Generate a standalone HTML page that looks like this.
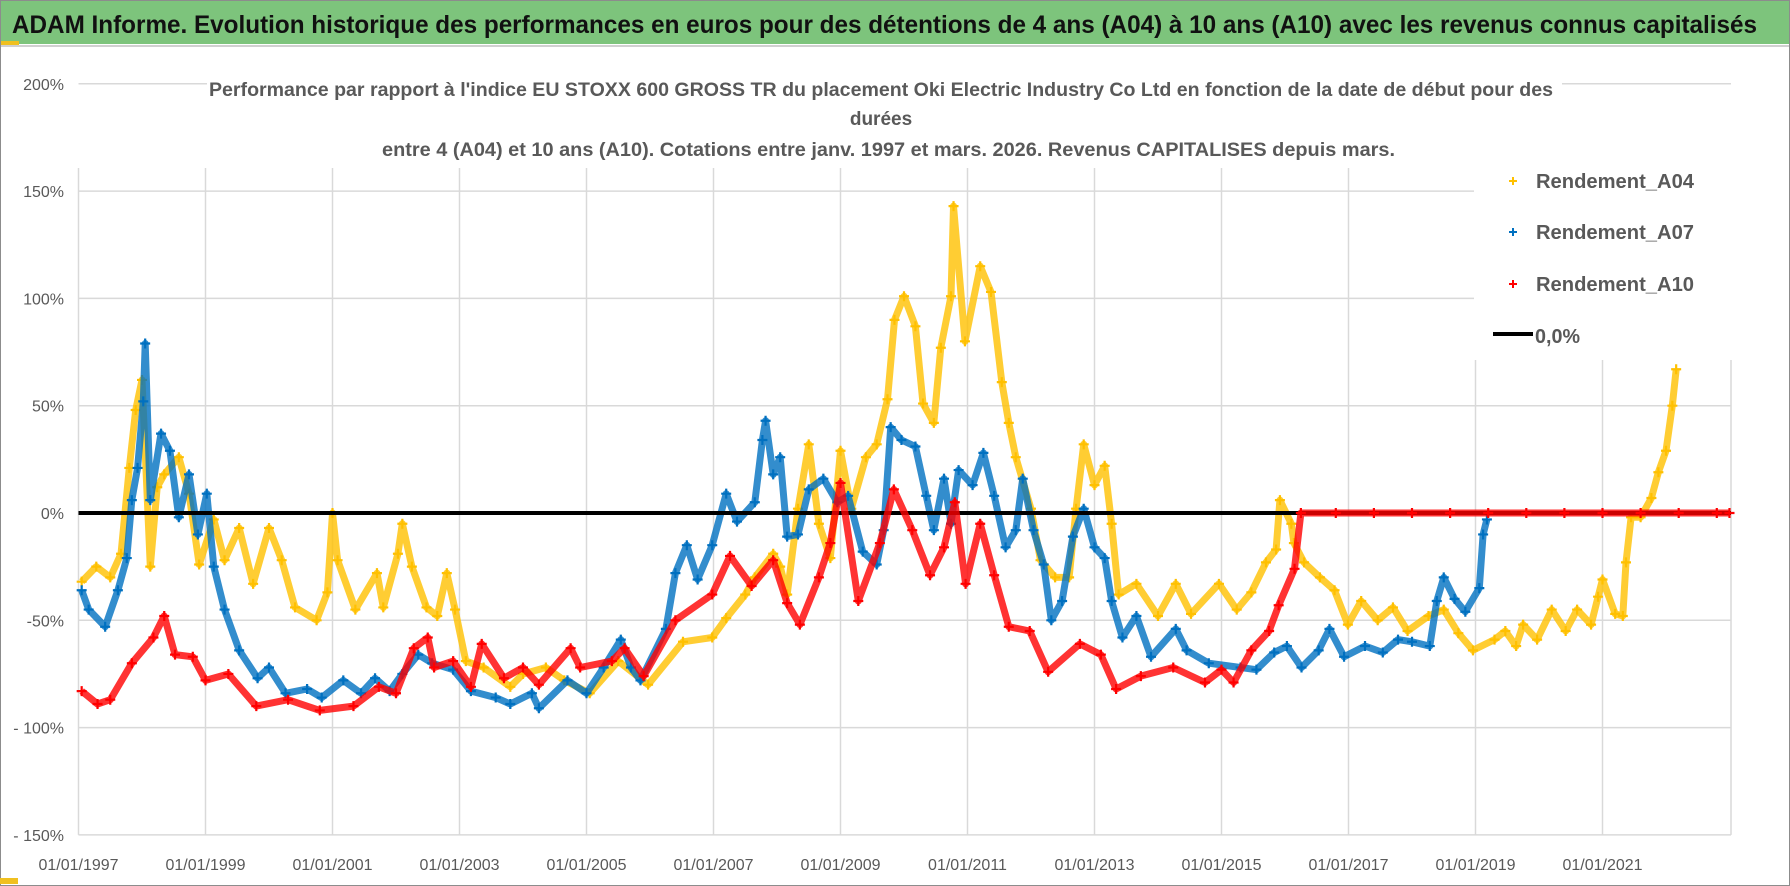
<!DOCTYPE html>
<html><head><meta charset="utf-8"><style>
html,body{margin:0;padding:0;background:#fff;}
svg{display:block;}
text{font-family:"Liberation Sans",sans-serif;}
</style></head><body>
<svg id="chart" width="1790" height="886" viewBox="0 0 1790 886" xmlns="http://www.w3.org/2000/svg">
<rect x="0.5" y="0.5" width="1789" height="885" fill="#fff" stroke="#8c8c8c"/>
<rect x="1" y="1" width="1788" height="43" fill="#7dc47c"/>
<rect x="1" y="41" width="18" height="4" fill="#f0c020"/>
<line x1="1" y1="46" x2="1789" y2="46" stroke="#d0d0d0" stroke-width="2"/>
<text x="12" y="33" font-size="25" font-weight="bold" fill="#111" textLength="1745" lengthAdjust="spacingAndGlyphs">ADAM Informe. Evolution historique des performances en euros pour des détentions de 4 ans (A04) à 10 ans (A10) avec les revenus connus capitalisés</text>
<rect x="0" y="878" width="18" height="6" fill="#f0c020"/>
<g id="grid"></g>
<g id="yticks"></g>
<g id="xticks"></g>
<rect x="207" y="62" width="1355" height="106" fill="#fff"/>
<rect x="1474" y="160" width="262" height="200" fill="#fff"/>
<g fill="#595959" font-weight="bold" font-size="19">
<text x="209" y="96" textLength="1344" lengthAdjust="spacingAndGlyphs">Performance par rapport à l'indice EU STOXX 600 GROSS TR  du placement Oki Electric Industry Co Ltd en fonction de la date de début pour des</text>
<text x="881" y="125" text-anchor="middle">durées</text>
<text x="382" y="156" textLength="1013" lengthAdjust="spacingAndGlyphs">entre 4 (A04) et 10 ans (A10).  Cotations entre janv. 1997 et mars. 2026.  Revenus CAPITALISES depuis mars.</text>
</g>
<g id="series"></g>
<g font-size="20" font-weight="bold" fill="#595959">
<g><path d="M1509 181h8M1513 177v8" stroke="#ffc000" stroke-width="2"/><text x="1536" y="188" textLength="158" lengthAdjust="spacingAndGlyphs">Rendement_A04</text></g>
<g><path d="M1509 232h8M1513 228v8" stroke="#0070c0" stroke-width="2"/><text x="1536" y="239" textLength="158" lengthAdjust="spacingAndGlyphs">Rendement_A07</text></g>
<g><path d="M1509 284h8M1513 280v8" stroke="#ff0000" stroke-width="2"/><text x="1536" y="291" textLength="158" lengthAdjust="spacingAndGlyphs">Rendement_A10</text></g>
<g><line x1="1493" y1="334" x2="1533" y2="334" stroke="#000" stroke-width="4"/><text x="1535" y="343" textLength="45" lengthAdjust="spacingAndGlyphs">0,0%</text></g>
</g>
</svg>
<script>
const yTicks=[200,150,100,50,0,-50,-100,-150];
const yTickLabels=["200%","150%","100%","50%","0%","-50%","- 100%","- 150%"];
const xTickYears=[1997,1999,2001,2003,2005,2007,2009,2011,2013,2015,2017,2019,2021];
const xTickLabels=["01/01/1997","01/01/1999","01/01/2001","01/01/2003","01/01/2005","01/01/2007","01/01/2009","01/01/2011","01/01/2013","01/01/2015","01/01/2017","01/01/2019","01/01/2021"];
const a04Years=[1997.05,1997.28,1997.5,1997.67,1997.8,1997.9,1998.0,1998.13,1998.24,1998.35,1998.58,1998.74,1998.9,1999.13,1999.3,1999.53,1999.75,2000.0,2000.2,2000.41,2000.75,2000.92,2001.0,2001.08,2001.36,2001.7,2001.8,2002.03,2002.1,2002.25,2002.48,2002.65,2002.8,2002.93,2003.1,2003.38,2003.8,2004.0,2004.36,2004.65,2005.05,2005.5,2005.97,2006.52,2006.98,2007.2,2007.5,2007.65,2007.94,2008.05,2008.16,2008.33,2008.5,2008.66,2008.84,2009.0,2009.17,2009.4,2009.57,2009.74,2009.85,2010.0,2010.18,2010.3,2010.47,2010.58,2010.74,2010.78,2010.96,2011.2,2011.37,2011.54,2011.65,2011.76,2012.0,2012.15,2012.38,2012.6,2012.71,2012.83,2013.0,2013.16,2013.27,2013.38,2013.66,2014.0,2014.28,2014.52,2014.96,2015.24,2015.47,2015.7,2015.86,2015.92,2016.1,2016.14,2016.3,2016.55,2016.78,2016.99,2017.2,2017.46,2017.7,2017.93,2018.26,2018.5,2018.73,2018.96,2019.3,2019.47,2019.64,2019.75,2019.97,2020.2,2020.42,2020.6,2020.82,2020.93,2021.0,2021.2,2021.32,2021.37,2021.45,2021.6,2021.77,2021.88,2022.0,2022.1,2022.16];
const a04Values=[-32,-25,-30,-19,21,48,62,-25,12,18,26,9,-24,-3,-22,-7,-33,-7,-22,-44,-50,-37,0,-22,-45,-28,-44,-19,-5,-25,-44,-48,-28,-45,-69,-72,-81,-75,-72,-78,-84,-69,-80,-60,-58,-49,-38,-30,-19,-25,-38,2,32,-5,-21,29,2,26,32,53,90,101,87,51,42,77,101,143,80,115,103,61,42,26,2,-22,-30,-30,2,32,13,22,-5,-38,-33,-48,-33,-47,-33,-45,-37,-23,-17,6,-5,-14,-23,-30,-36,-52,-41,-50,-44,-55,-48,-45,-56,-64,-59,-55,-62,-52,-59,-45,-55,-45,-52,-39,-31,-47,-48,-23,-2,-2,7,19,29,50,67];
const a07Years=[1997.05,1997.16,1997.42,1997.62,1997.76,1997.84,1997.93,1998.02,1998.05,1998.13,1998.3,1998.44,1998.58,1998.74,1998.88,1999.02,1999.13,1999.3,1999.53,1999.82,2000.0,2000.26,2000.6,2000.83,2001.17,2001.45,2001.67,2001.9,2002.1,2002.35,2002.57,2002.9,2003.18,2003.57,2003.8,2004.14,2004.25,2004.7,2005.0,2005.27,2005.54,2005.7,2005.85,2006.25,2006.4,2006.58,2006.75,2006.98,2007.2,2007.37,2007.65,2007.77,2007.82,2007.94,2008.05,2008.16,2008.33,2008.5,2008.73,2008.95,2009.12,2009.35,2009.57,2009.68,2009.79,2009.96,2010.18,2010.35,2010.47,2010.63,2010.74,2010.86,2011.08,2011.25,2011.42,2011.6,2011.76,2011.87,2012.04,2012.2,2012.32,2012.49,2012.66,2012.83,2013.0,2013.16,2013.27,2013.44,2013.66,2013.89,2014.28,2014.45,2014.8,2015.3,2015.55,2015.83,2016.03,2016.26,2016.53,2016.7,2016.93,2017.26,2017.54,2017.78,2018.0,2018.28,2018.39,2018.5,2018.67,2018.84,2019.06,2019.12,2019.18];
const a07Values=[-36,-45,-53,-36,-21,6,21,52,79,6,37,29,-2,18,-10,9,-25,-45,-64,-77,-72,-84,-82,-86,-78,-84,-77,-83,-75,-66,-70,-73,-83,-86,-89,-84,-91,-78,-84,-72,-59,-72,-78,-54,-28,-15,-31,-15,9,-4,5,34,43,18,26,-11,-10,11,16,5,8,-18,-24,-8,40,34,31,8,-8,16,-5,20,13,28,8,-16,-8,16,-8,-24,-50,-41,-11,2,-16,-21,-41,-58,-48,-67,-54,-64,-70,-72,-73,-65,-62,-72,-64,-54,-67,-62,-65,-59,-60,-62,-41,-30,-40,-46,-35,-10,-3];
const a10Years=[1997.05,1997.3,1997.5,1997.84,1998.18,1998.35,1998.52,1998.8,1999.0,1999.36,1999.8,2000.3,2000.8,2001.33,2001.73,2002.0,2002.28,2002.5,2002.6,2002.9,2003.18,2003.35,2003.7,2004.0,2004.25,2004.75,2004.9,2005.4,2005.6,2005.9,2006.4,2006.98,2007.26,2007.6,2007.94,2008.16,2008.36,2008.66,2008.84,2009.0,2009.28,2009.62,2009.84,2010.13,2010.41,2010.63,2010.8,2010.97,2011.2,2011.42,2011.65,2011.98,2012.27,2012.77,2013.1,2013.34,2013.73,2014.24,2014.74,2015.0,2015.19,2015.47,2015.75,2015.9,2016.15,2016.25,2016.8,2017.4,2018.0,2018.6,2019.2,2019.8,2020.4,2021.0,2021.6,2022.2,2022.8,2023.0];
const a10Values=[-83,-89,-87,-70,-58,-48,-66,-67,-78,-75,-90,-87,-92,-90,-81,-84,-63,-58,-72,-69,-81,-61,-77,-72,-80,-63,-72,-69,-63,-76,-50,-38,-20,-34,-22,-42,-52,-30,-14,14,-41,-14,11,-8,-29,-16,5,-33,-5,-29,-53,-55,-74,-61,-66,-82,-76,-72,-79,-73,-79,-64,-55,-43,-26,0,0,0,0,0,0,0,0,0,0,0,0,0];

const X0=78.5, PX_PER_YEAR=63.5, Y0=513, PX_PER_PCT=2.146, XRIGHT=1731;
function xs(yr){return X0+(yr-1997)*PX_PER_YEAR;}
function ys(v){return Y0-v*PX_PER_PCT;}
const NS="http://www.w3.org/2000/svg";
function mk(tag,attrs,parent){const e=document.createElementNS(NS,tag);for(const k in attrs)e.setAttribute(k,attrs[k]);parent.appendChild(e);return e;}

const grid=document.getElementById('grid');
yTicks.forEach((v,i)=>{
  const l=mk('line',{x1:X0,x2:XRIGHT,y1:ys(v),y2:ys(v),stroke:'#d9d9d9','stroke-width':1.5},grid);
  
  
  const t=mk('text',{x:64,y:ys(v)+6,'text-anchor':'end','font-size':16,fill:'#595959'},document.getElementById('yticks'));
  t.textContent=yTickLabels[i];
  
  
});
xTickYears.forEach((yr,i)=>{
  const l=mk('line',{x1:xs(yr),x2:xs(yr),y1:168,y2:ys(-150),stroke:'#d9d9d9','stroke-width':1.5},grid);
  
  
  const t=mk('text',{x:xs(yr),y:870,'text-anchor':'middle','font-size':16,fill:'#595959'},document.getElementById('xticks'));
  t.textContent=xTickLabels[i];
  
  
});
mk('line',{x1:XRIGHT,x2:XRIGHT,y1:168,y2:ys(-150),stroke:'#d9d9d9','stroke-width':1.5},grid);

const series=document.getElementById('series');
function drawSeries(years,vals,color,name){
  const g=mk('g',{},series);
  
  
  const pts=years.map((y,i)=>xs(y).toFixed(1)+','+ys(vals[i]).toFixed(1)).join(' ');
  const pl=mk('polyline',{points:pts,fill:'none',stroke:color,'stroke-width':7,'stroke-linejoin':'round','stroke-opacity':0.8},g);
  
  
  years.forEach((y,i)=>{
    const cx=xs(y),cy=ys(vals[i]);
    const p=mk('path',{d:`M${cx-5} ${cy}h10M${cx} ${cy-5}v10`,stroke:color,'stroke-width':2.2},g);
    
    
  });
}
drawSeries(a04Years,a04Values,'#ffc000','series-a04');
drawSeries(a07Years,a07Values,'#0070c0','series-a07');
const zl=mk('line',{x1:X0,x2:XRIGHT,y1:ys(0),y2:ys(0),stroke:'#000','stroke-width':4},series);


drawSeries(a10Years,a10Values,'#ff0000','series-a10');
</script>
</body></html>
